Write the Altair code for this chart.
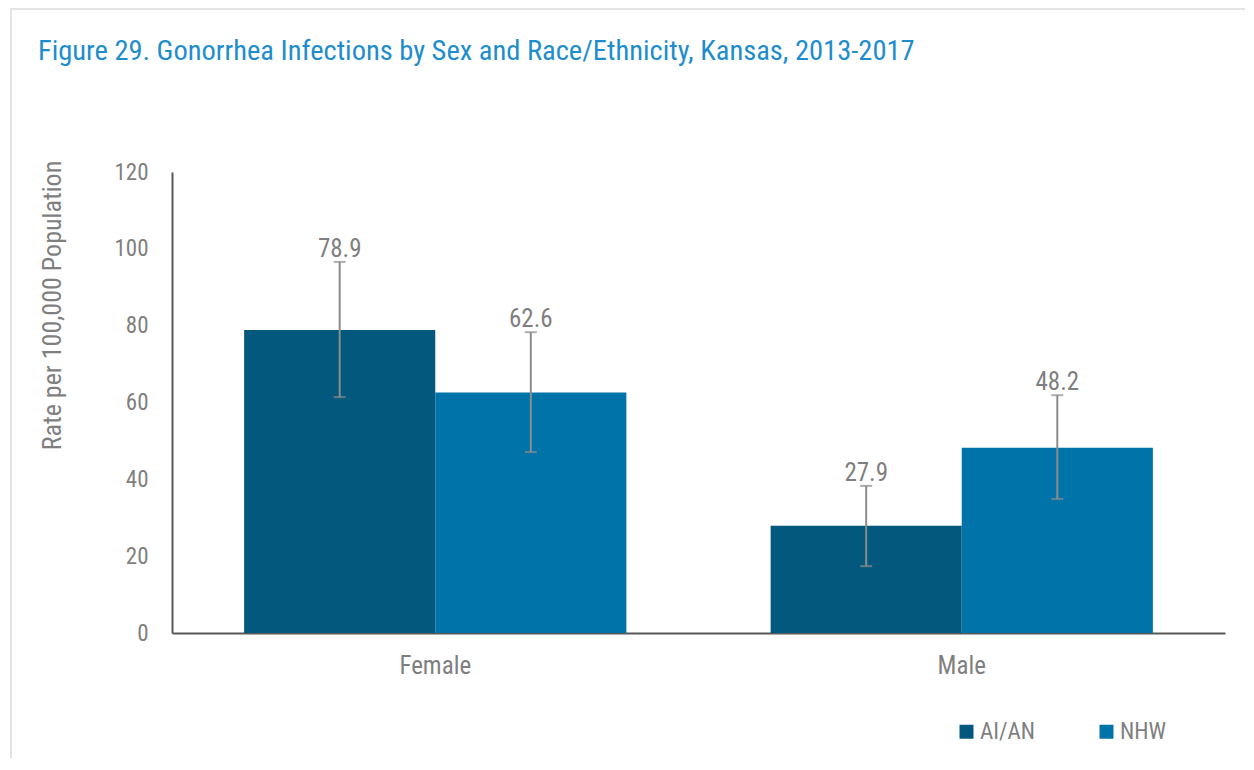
import altair as alt
import pandas as pd

sexes = ["Female", "Female", "Male", "Male"]
groups = ["AI/AN", "NHW", "AI/AN", "NHW"]
rates = [78.9, 62.6, 27.9, 48.2]
lower = [61.4, 47.1, 17.4, 34.9]
upper = [96.6, 78.3, 38.3, 61.9]
labels = ["78.9", "62.6", "27.9", "48.2"]

df = pd.DataFrame({"sex": sexes, "group": groups, "rate": rates,
                   "lo": lower, "hi": upper, "label": labels})

FONT = "Liberation Sans Narrow, Roboto Condensed, DejaVu Sans Condensed, Arial Narrow, sans-serif"
GRAY = "#7f7f7f"
colors = ["#02587d", "#0073a8"]

x = alt.X("sex:N", title=None,
          scale=alt.Scale(paddingInner=0.274, paddingOuter=0.137),
          axis=alt.Axis(labelAngle=0, labelFont=FONT, labelFontSize=25, labelColor=GRAY,
                        labelPadding=20, ticks=False, domainColor="#595959", domainWidth=2))
xo = alt.XOffset("group:N", scale=alt.Scale(paddingInner=0, paddingOuter=0))
yscale = alt.Scale(domain=[0, 120])

base = alt.Chart(df)

bars = base.mark_bar().encode(
    x=x, xOffset=xo,
    y=alt.Y("rate:Q", scale=yscale, title="Rate per 100,000 Population",
            axis=alt.Axis(values=[0, 20, 40, 60, 80, 100, 120], grid=False, ticks=False,
                          labelFont=FONT, labelFontSize=23, labelColor=GRAY, labelPadding=24,
                          domainColor="#595959", domainWidth=2,
                          titleFont=FONT, titleFontSize=26, titleColor=GRAY,
                          titleFontWeight="normal", titleX=-107, titleY=133,
                          titleAlign="center", titleBaseline="bottom")),
    color=alt.Color("group:N", scale=alt.Scale(domain=["AI/AN", "NHW"], range=colors),
                    legend=alt.Legend(title=None, orient="none", legendX=783, legendY=548,
                                      direction="horizontal", columns=2, columnPadding=59,
                                      symbolType="square", symbolSize=196, symbolStrokeWidth=0,
                                      labelFont=FONT, labelFontSize=23, labelColor=GRAY,
                                      labelOffset=2, padding=0)),
)

rule = base.mark_rule(color="#8c8c8c", strokeWidth=2).encode(
    x=alt.X("sex:N"), xOffset=xo, y=alt.Y("lo:Q", scale=yscale), y2="hi:Q")
cap_lo = base.mark_tick(color="#8c8c8c", thickness=2, size=12).encode(
    x=alt.X("sex:N"), xOffset=xo, y=alt.Y("lo:Q", scale=yscale))
cap_hi = base.mark_tick(color="#8c8c8c", thickness=2, size=12).encode(
    x=alt.X("sex:N"), xOffset=xo, y=alt.Y("hi:Q", scale=yscale))
text = base.mark_text(font=FONT, fontSize=25, color=GRAY, baseline="alphabetic", dy=-5).encode(
    x=alt.X("sex:N"), xOffset=xo, y=alt.Y("hi:Q", scale=yscale), text="label:N")

frame_left = alt.Chart(pd.DataFrame({"a": [0]})).mark_rule(color="#e3e3e3", strokeWidth=2).encode(
    x=alt.value(-161), y=alt.value(-163), y2=alt.value(600))
frame_top = alt.Chart(pd.DataFrame({"a": [0]})).mark_rule(color="#e3e3e3", strokeWidth=2).encode(
    x=alt.value(-162), x2=alt.value(1080), y=alt.value(-163))

chart = alt.layer(frame_left, frame_top, bars, rule, cap_lo, cap_hi, text).properties(
    width=1053, height=461,
    autosize=alt.AutoSizeParams(type="none"),
    padding={"left": 164, "top": 164, "right": 20, "bottom": 125},
    title=alt.Title("Figure 29. Gonorrhea Infections by Sex and Race/Ethnicity, Kansas, 2013-2017",
                    anchor="start", frame="group", dx=-134, dy=84, baseline="alphabetic",
                    font=FONT, fontSize=28.5, fontWeight="normal", color="#1e8dcd"),
).configure(background="white", view=alt.ViewConfig(stroke=None))

chart.save("out.html", embed_options={"renderer": "svg", "actions": False})
